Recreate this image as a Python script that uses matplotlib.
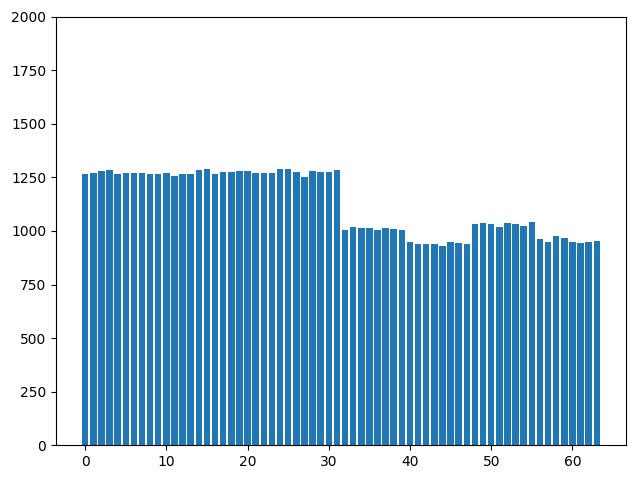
import numpy as np
import matplotlib
matplotlib.use("Agg")
import matplotlib.pyplot as plt

values = [
    1266, 1271, 1280, 1285, 1266, 1271, 1271, 1271, 1266, 1266,
    1271, 1257, 1266, 1266, 1285, 1290, 1266, 1276, 1276, 1280,
    1280, 1271, 1271, 1271, 1290, 1290, 1276, 1252, 1280, 1276,
    1276, 1285, 1005, 1019, 1014, 1014, 1005, 1014, 1009, 1005,
    949, 939, 939, 939, 930, 949, 944, 939, 1033, 1037,
    1033, 1019, 1037, 1033, 1023, 1042, 963, 949, 977, 967,
    949, 944, 949, 953,
]
positions = np.arange(len(values))

fig, ax = plt.subplots(figsize=(6.4, 4.8), dpi=100)
ax.bar(positions, values)
ax.set_ylim(0, 2000)
fig.subplots_adjust(left=0.0875, right=0.978, top=0.9646, bottom=0.0729)
fig.savefig("out.png")
